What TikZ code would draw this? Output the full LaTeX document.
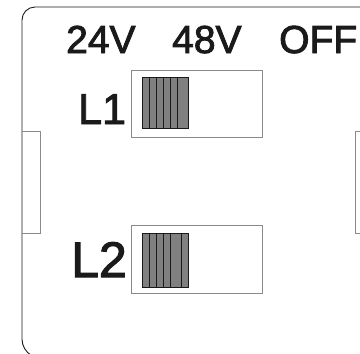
\documentclass[tikz,border=0pt]{standalone}
\usepackage{fontspec}
\setmainfont{Liberation Sans}
\newfontfamily\heavy{Liberation Sans}[FakeBold=2.2]
\definecolor{ink}{HTML}{1A1A1A}
\definecolor{edge}{HTML}{8A8A8A}
\definecolor{knob}{HTML}{808080}
\begin{document}
\begin{tikzpicture}[x=1pt,y=-1pt,
  frame/.style={draw=ink,line width=0.9pt},
  tab/.style={draw=edge,line width=0.9pt},
  slot/.style={draw=edge,line width=1pt,fill=white},
  block/.style={fill=knob,draw=ink,line width=0.9pt},
  stripe/.style={draw=ink,line width=0.8pt},
  lbl/.style={anchor=base west,inner sep=0pt,text=ink}]
\useasboundingbox (0,0) rectangle (360,354);
\begin{scope}
\clip (0,0) rectangle (360,354);
% outer frame
\draw[frame] (400,7) -- (35,7) arc[start angle=270,end angle=180,radius=13] -- (22,339) arc[start angle=180,end angle=120,radius=19];
% side tabs
\draw[tab] (22,131) -- (40,131) -- (40,233) -- (22,233);
\draw[tab] (365,131) -- (355,131) -- (355,233) -- (365,233);
\end{scope}
% labels
\node[lbl,font=\heavy\fontsize{39}{39}\selectfont] (v24) at (66,53) {24V};
\node[lbl,font=\heavy\fontsize{39}{39}\selectfont] (v48) at (172,53) {48V};
\node[lbl,font=\heavy\fontsize{39}{39}\selectfont] (off) at (279,53) {OFF};
\node[lbl,font=\heavy\fontsize{43}{43}\selectfont] (l1) at (78,124) {L1};
\node[lbl,font=\heavy\fontsize{50}{50}\selectfont] (l2) at (71,277) {L2};
% switch L1
\draw[slot] (131.7,70.7) rectangle (262.7,137.7);
\draw[block] (142.3,77.5) rectangle (188.3,128.3);
\foreach \x in {149.3,156.7,163.7,170.7,177.7}
  \draw[stripe] (\x,77.5) -- (\x,128.3);
% switch L2
\draw[slot] (131.7,225.7) rectangle (262.7,293.5);
\draw[block] (142.3,233.3) rectangle (188.3,287.7);
\foreach \x in {149.3,156.7,163.7,170.7,181.7}
  \draw[stripe] (\x,233.3) -- (\x,287.7);
\end{tikzpicture}
\end{document}
